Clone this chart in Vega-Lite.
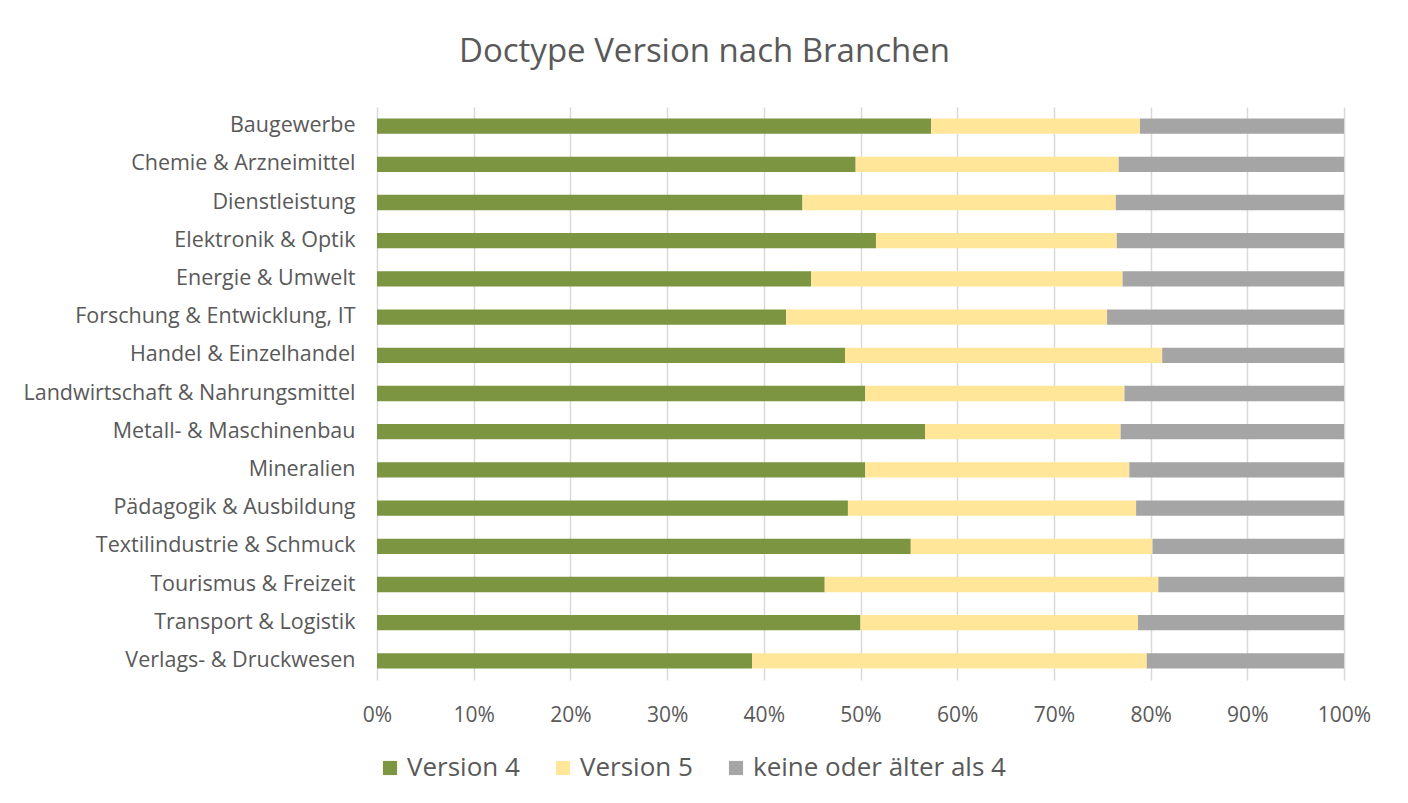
{
  "$schema": "https://vega.github.io/schema/vega-lite/v6.json",
  "autosize": "none",
  "padding": {"left": 377, "top": 107, "right": 64, "bottom": 123},
  "width": 967,
  "height": 573,
  "background": "white",
  "title": {
    "text": "Doctype Version nach Branchen",
    "anchor": "middle",
    "dx": -156,
    "offset": 38,
    "font": "Open Sans",
    "fontSize": 33,
    "fontWeight": "normal",
    "color": "#595959"
  },
  "data": {
    "values": [
      {"b": "Baugewerbe", "v": "Version 4", "s": 1, "p": 57.3},
      {"b": "Baugewerbe", "v": "Version 5", "s": 2, "p": 21.6},
      {"b": "Baugewerbe", "v": "keine oder älter als 4", "s": 3, "p": 21.1},
      {"b": "Chemie & Arzneimittel", "v": "Version 4", "s": 1, "p": 49.5},
      {"b": "Chemie & Arzneimittel", "v": "Version 5", "s": 2, "p": 27.2},
      {"b": "Chemie & Arzneimittel", "v": "keine oder älter als 4", "s": 3, "p": 23.3},
      {"b": "Dienstleistung", "v": "Version 4", "s": 1, "p": 44.0},
      {"b": "Dienstleistung", "v": "Version 5", "s": 2, "p": 32.4},
      {"b": "Dienstleistung", "v": "keine oder älter als 4", "s": 3, "p": 23.6},
      {"b": "Elektronik & Optik", "v": "Version 4", "s": 1, "p": 51.6},
      {"b": "Elektronik & Optik", "v": "Version 5", "s": 2, "p": 24.9},
      {"b": "Elektronik & Optik", "v": "keine oder älter als 4", "s": 3, "p": 23.5},
      {"b": "Energie & Umwelt", "v": "Version 4", "s": 1, "p": 44.9},
      {"b": "Energie & Umwelt", "v": "Version 5", "s": 2, "p": 32.2},
      {"b": "Energie & Umwelt", "v": "keine oder älter als 4", "s": 3, "p": 22.9},
      {"b": "Forschung & Entwicklung, IT", "v": "Version 4", "s": 1, "p": 42.3},
      {"b": "Forschung & Entwicklung, IT", "v": "Version 5", "s": 2, "p": 33.2},
      {"b": "Forschung & Entwicklung, IT", "v": "keine oder älter als 4", "s": 3, "p": 24.5},
      {"b": "Handel & Einzelhandel", "v": "Version 4", "s": 1, "p": 48.4},
      {"b": "Handel & Einzelhandel", "v": "Version 5", "s": 2, "p": 32.8},
      {"b": "Handel & Einzelhandel", "v": "keine oder älter als 4", "s": 3, "p": 18.8},
      {"b": "Landwirtschaft & Nahrungsmittel", "v": "Version 4", "s": 1, "p": 50.5},
      {"b": "Landwirtschaft & Nahrungsmittel", "v": "Version 5", "s": 2, "p": 26.8},
      {"b": "Landwirtschaft & Nahrungsmittel", "v": "keine oder älter als 4", "s": 3, "p": 22.7},
      {"b": "Metall- & Maschinenbau", "v": "Version 4", "s": 1, "p": 56.7},
      {"b": "Metall- & Maschinenbau", "v": "Version 5", "s": 2, "p": 20.2},
      {"b": "Metall- & Maschinenbau", "v": "keine oder älter als 4", "s": 3, "p": 23.1},
      {"b": "Mineralien", "v": "Version 4", "s": 1, "p": 50.5},
      {"b": "Mineralien", "v": "Version 5", "s": 2, "p": 27.3},
      {"b": "Mineralien", "v": "keine oder älter als 4", "s": 3, "p": 22.2},
      {"b": "Pädagogik & Ausbildung", "v": "Version 4", "s": 1, "p": 48.7},
      {"b": "Pädagogik & Ausbildung", "v": "Version 5", "s": 2, "p": 29.8},
      {"b": "Pädagogik & Ausbildung", "v": "keine oder älter als 4", "s": 3, "p": 21.5},
      {"b": "Textilindustrie & Schmuck", "v": "Version 4", "s": 1, "p": 55.2},
      {"b": "Textilindustrie & Schmuck", "v": "Version 5", "s": 2, "p": 25.0},
      {"b": "Textilindustrie & Schmuck", "v": "keine oder älter als 4", "s": 3, "p": 19.8},
      {"b": "Tourismus & Freizeit", "v": "Version 4", "s": 1, "p": 46.3},
      {"b": "Tourismus & Freizeit", "v": "Version 5", "s": 2, "p": 34.5},
      {"b": "Tourismus & Freizeit", "v": "keine oder älter als 4", "s": 3, "p": 19.2},
      {"b": "Transport & Logistik", "v": "Version 4", "s": 1, "p": 50.0},
      {"b": "Transport & Logistik", "v": "Version 5", "s": 2, "p": 28.7},
      {"b": "Transport & Logistik", "v": "keine oder älter als 4", "s": 3, "p": 21.3},
      {"b": "Verlags- & Druckwesen", "v": "Version 4", "s": 1, "p": 38.8},
      {"b": "Verlags- & Druckwesen", "v": "Version 5", "s": 2, "p": 40.8},
      {"b": "Verlags- & Druckwesen", "v": "keine oder älter als 4", "s": 3, "p": 20.4}
    ]
  },
  "mark": {"type": "bar"},
  "encoding": {
    "y": {
      "field": "b",
      "type": "nominal",
      "sort": null,
      "scale": {"paddingInner": 0.6, "paddingOuter": 0.3},
      "axis": {
        "title": null,
        "domain": false,
        "ticks": false,
        "labelPadding": 22,
        "labelFont": "Open Sans",
        "labelFontSize": 21.5,
        "labelColor": "#595959",
        "labelLimit": 400
      }
    },
    "x": {
      "field": "p",
      "type": "quantitative",
      "stack": "normalize",
      "scale": {"domain": [0, 1], "nice": false},
      "axis": {
        "title": null,
        "format": ".0%",
        "values": [0, 0.1, 0.2, 0.3, 0.4, 0.5, 0.6, 0.7, 0.8, 0.9, 1],
        "labelOverlap": false,
        "labelFlush": false,
        "domain": false,
        "ticks": false,
        "grid": true,
        "gridColor": "#d9d9d9",
        "gridWidth": 1.5,
        "labelPadding": 24,
        "labelFont": "Open Sans",
        "labelFontSize": 21,
        "labelColor": "#595959"
      }
    },
    "color": {
      "field": "v",
      "type": "nominal",
      "sort": ["Version 4", "Version 5", "keine oder älter als 4"],
      "scale": {
        "domain": ["Version 4", "Version 5", "keine oder älter als 4"],
        "range": ["#7b9540", "#ffe699", "#a5a5a5"]
      },
      "legend": {
        "title": null,
        "orient": "bottom",
        "direction": "horizontal",
        "symbolType": "square",
        "symbolSize": 200,
        "symbolStrokeWidth": 0,
        "labelFont": "Open Sans",
        "labelFontSize": 26,
        "labelColor": "#595959",
        "columnPadding": 30,
        "offset": 30,
        "labelLimit": 400
      }
    },
    "order": {"field": "s", "type": "quantitative"}
  },
  "config": {
    "view": {"stroke": null}
  }
}
